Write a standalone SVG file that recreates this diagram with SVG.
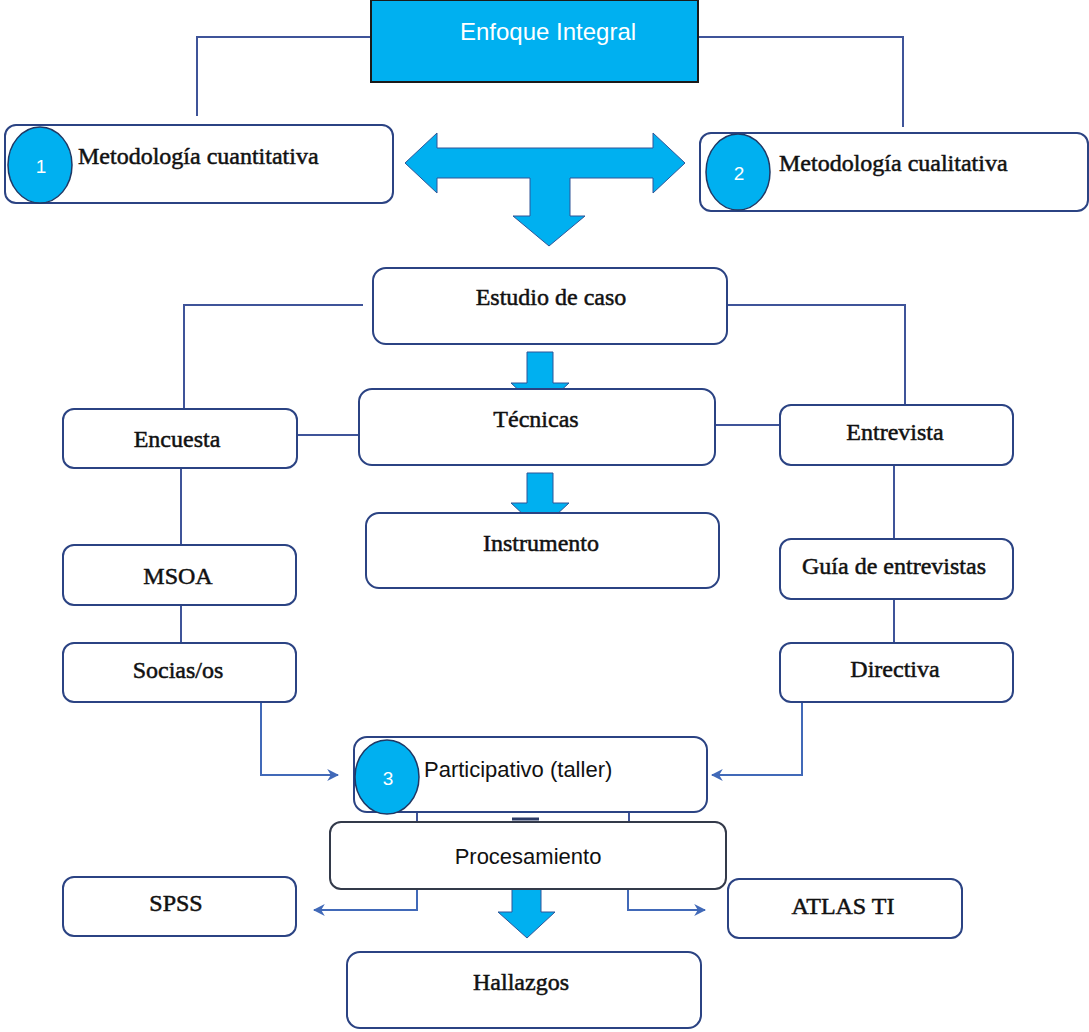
<svg xmlns="http://www.w3.org/2000/svg" width="1089" height="1032" viewBox="0 0 1089 1032">
<defs>
<style>
.box{fill:#fff;stroke:#2B4383;stroke-width:2}
.box2{fill:#fff;stroke:#333a4a;stroke-width:2}
.blue{fill:#00B0F0;stroke:#1F3864;stroke-width:1.5}
.bigarrow{fill:#00B0F0;stroke:#2F5597;stroke-width:1}
.ser{font-family:"Liberation Serif","Times New Roman",serif;font-size:24px;fill:#111;stroke:#111;stroke-width:0.5}
.sans{font-family:"Liberation Sans",Arial,sans-serif;font-size:22px;fill:#111}
.wt{font-family:"Liberation Sans",Arial,sans-serif;fill:#fff}
.ln{fill:none;stroke:#3F5499;stroke-width:2}
.ar{fill:none;stroke:#4169B8;stroke-width:2}
</style>
<marker id="ah" viewBox="0 0 10 10" refX="9" refY="5" markerWidth="6" markerHeight="6" orient="auto" markerUnits="strokeWidth">
<path d="M0,0 L10,5 L0,10 L3,5 Z" fill="#4169B8"/>
</marker>
</defs>
<rect width="1089" height="1032" fill="#fff"/>

<g id="connectors">
<polyline class="ln" points="371,37 197,37 197,116"/>
<polyline class="ln" points="698,37 903,37 903,127"/>
<polyline class="ln" points="363,305 184,305 184,408"/>
<polyline class="ln" points="727,305 905,305 905,405"/>
<line class="ln" x1="297" y1="435" x2="359" y2="435"/>
<line class="ln" x1="715" y1="425" x2="780" y2="425"/>
<line class="ln" x1="181" y1="468" x2="181" y2="545"/>
<line class="ln" x1="894" y1="465" x2="894" y2="539"/>
<line class="ln" x1="181" y1="605" x2="181" y2="643"/>
<line class="ln" x1="894" y1="599" x2="894" y2="643"/>
<polyline class="ar" points="261,702 261,775 338,775" marker-end="url(#ah)"/>
<polyline class="ar" points="802,702 802,775 712,775" marker-end="url(#ah)"/>
<polyline class="ln" points="417,822 417,810 523,810"/>
<polyline class="ln" points="553,810 629,810 629,822"/>
<line x1="512" y1="819" x2="539" y2="819" stroke="#2B3B66" stroke-width="3"/>
<polyline class="ar" points="417,889 417,910 314,910" marker-end="url(#ah)"/>
<polyline class="ar" points="628,889 628,910 705,910" marker-end="url(#ah)"/>
<polygon class="bigarrow" points="405,163 437,133 437,148 653,148 653,133 685,163 653,193 653,178 570,178 570,216 585,216 549,246 513,216 530,216 530,178 437,178 437,193"/>
<polygon class="bigarrow" points="527,352 553,352 553,383 569,383 540,410 511,383 527,383"/>
<polygon class="bigarrow" points="527,473 553,473 553,503 569,503 540,530 511,503 527,503"/>
<polygon class="bigarrow" points="512,889 541,889 541,912 555,912 527,938 498,912 512,912"/>
</g>

<g id="enfoque">
<rect x="371" y="0" width="327" height="82" fill="#00B0F0" stroke="#1a1a1a" stroke-width="2"/>
<text class="wt" x="548" y="40" font-size="24" text-anchor="middle">Enfoque Integral</text>
</g>

<g id="cuantitativa">
<rect class="box" x="5" y="125" width="388" height="78" rx="11"/>
<ellipse class="blue" cx="40" cy="165" rx="32" ry="38"/>
<text class="wt" x="41" y="173" font-size="19" text-anchor="middle">1</text>
<text class="ser" x="78" y="164">Metodología cuantitativa</text>
</g>

<g id="cualitativa">
<rect class="box" x="700" y="133" width="388" height="78" rx="11"/>
<ellipse class="blue" cx="738" cy="172" rx="32" ry="38"/>
<text class="wt" x="739" y="180" font-size="19" text-anchor="middle">2</text>
<text class="ser" x="779" y="171">Metodología cualitativa</text>
</g>

<g id="estudio">
<rect class="box" x="373" y="268" width="354" height="76" rx="13"/>
<text class="ser" x="551" y="305" text-anchor="middle">Estudio de caso</text>
</g>

<g id="tecnicas">
<rect class="box" x="359" y="389" width="356" height="76" rx="13"/>
<text class="ser" x="536" y="427" text-anchor="middle">Técnicas</text>
</g>

<g id="encuesta">
<rect class="box" x="63" y="409" width="234" height="59" rx="11"/>
<text class="ser" x="177" y="447" text-anchor="middle">Encuesta</text>
</g>

<g id="entrevista">
<rect class="box" x="780" y="405" width="233" height="60" rx="11"/>
<text class="ser" x="895" y="440" text-anchor="middle">Entrevista</text>
</g>

<g id="instrumento">
<rect class="box" x="366" y="513" width="353" height="75" rx="13"/>
<text class="ser" x="541" y="551" text-anchor="middle">Instrumento</text>
</g>

<g id="msoa">
<rect class="box" x="63" y="545" width="233" height="60" rx="11"/>
<text class="ser" x="178" y="584" text-anchor="middle">MSOA</text>
</g>

<g id="guia">
<rect class="box" x="780" y="539" width="233" height="60" rx="11"/>
<text class="ser" x="894" y="574" text-anchor="middle">Guía de entrevistas</text>
</g>

<g id="socias">
<rect class="box" x="63" y="643" width="233" height="59" rx="11"/>
<text class="ser" x="178" y="678" text-anchor="middle">Socias/os</text>
</g>

<g id="directiva">
<rect class="box" x="780" y="643" width="233" height="59" rx="11"/>
<text class="ser" x="895" y="677" text-anchor="middle">Directiva</text>
</g>

<g id="participativo">
<rect class="box" x="354" y="737" width="353" height="75" rx="13"/>
<ellipse class="blue" cx="387" cy="777" rx="32" ry="37"/>
<text class="wt" x="388" y="785" font-size="19" text-anchor="middle">3</text>
<text class="sans" x="424" y="777">Participativo (taller)</text>
</g>

<g id="procesamiento">
<rect class="box2" x="330" y="822" width="396" height="67" rx="11"/>
<text class="sans" x="528" y="864" font-size="23" text-anchor="middle">Procesamiento</text>
</g>

<g id="spss">
<rect class="box" x="63" y="877" width="233" height="59" rx="11"/>
<text class="ser" x="176" y="911" text-anchor="middle">SPSS</text>
</g>

<g id="atlas">
<rect class="box" x="728" y="879" width="234" height="59" rx="11"/>
<text class="ser" x="843" y="914" text-anchor="middle">ATLAS TI</text>
</g>

<g id="hallazgos">
<rect class="box" x="347" y="952" width="354" height="76" rx="13"/>
<text class="ser" x="521" y="990" text-anchor="middle">Hallazgos</text>
</g>
</svg>
